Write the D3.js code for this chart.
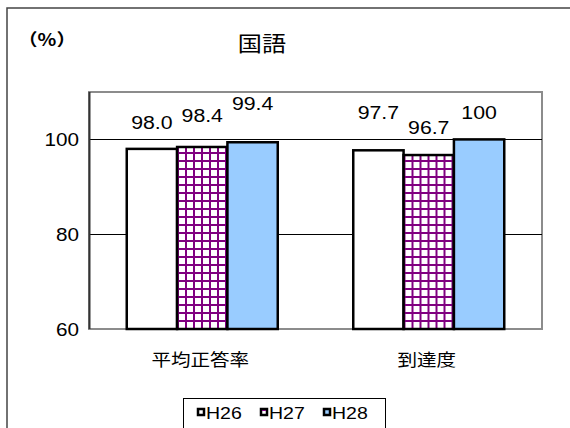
<!DOCTYPE html>
<html>
<head>
<meta charset="utf-8">
<script src="https://cdn.jsdelivr.net/npm/d3@7"></script>
<style>
  body { margin: 0; background: #fff; }
  text { font-family: "Liberation Sans", Arial, sans-serif; fill: #000; }
  .jp { font-family: "Noto Sans CJK JP", sans-serif; }
</style>
</head>
<body>
<div id="chart"></div>
<script>
// data
var categories = ["平均正答率", "到達度"];
var series = ["H26", "H27", "H28"];
var h26 = [98.0, 97.7];
var h27 = [98.4, 96.7];
var h28 = [99.4, 100];
var labelText = [["98.0", "98.4", "99.4"], ["97.7", "96.7", "100"]];
var yTicks = [60, 80, 100];

// layout
var width = 570, height = 428;
var plot = {left: 89, right: 542, top: 92, bottom: 329};
var stretch = 1.15;   // the original text is a bit wide
var labelLift = [[20, 25, 32], [31, 21, 20]];

var values = [h26, h27, h28];
var fills = ["#ffffff", "url(#grid)", "#99ccff"];

var svg = d3.select("#chart").append("svg")
    .attr("width", width)
    .attr("height", height);

var defs = svg.append("defs");
var pat = defs.append("pattern")
    .attr("id", "grid")
    .attr("patternUnits", "userSpaceOnUse")
    .attr("width", 8).attr("height", 8);
pat.append("rect").attr("width", 8).attr("height", 8).attr("fill", "#fff");
pat.append("rect").attr("width", 8).attr("height", 2).attr("fill", "#800080");
pat.append("rect").attr("width", 2).attr("height", 8).attr("fill", "#800080");

function txt(g, x, y, s, size, anchor, cls, sx) {
    return g.append("text")
        .attr("class", cls || null)
        .attr("transform", `translate(${x},${y}) scale(${sx || stretch},1)`)
        .attr("text-anchor", anchor || "middle")
        .style("font-size", size + "px")
        .text(s);
}

/* outer frame */
svg.append("path")
    .attr("d", `M7,${height} L7,8 L${width},8`)
    .attr("fill", "none")
    .attr("stroke", "#444")
    .attr("stroke-width", 1.5);

/* scales */
var x0 = d3.scaleBand()
    .domain(categories)
    .range([plot.left, plot.right]);

var x1 = d3.scaleBand()
    .domain(series)
    .range([0, x0.bandwidth()])
    .paddingOuter(0.75);

var y = d3.scaleLinear()
    .domain([60, 110])
    .range([plot.bottom, plot.top]);

/* plot area */
svg.append("rect")
    .attr("x", plot.left).attr("y", plot.top)
    .attr("width", plot.right - plot.left)
    .attr("height", plot.bottom - plot.top)
    .attr("fill", "#fff")
    .attr("stroke", "#8c8c8c")
    .attr("stroke-width", 2);

svg.append("g")
    .selectAll("line")
    .data(yTicks.filter(d => d > 60)).enter()
    .append("line")
    .attr("x1", plot.left).attr("x2", plot.right)
    .attr("y1", d => Math.round(y(d)) + 0.5)
    .attr("y2", d => Math.round(y(d)) + 0.5)
    .attr("stroke", "#000");

svg.append("line")
    .attr("x1", plot.left + 0.5).attr("x2", plot.left + 0.5)
    .attr("y1", plot.top).attr("y2", plot.bottom)
    .attr("stroke", "#333")
    .attr("stroke-width", 2);

/* bars */
var groups = svg.append("g")
    .selectAll("g")
    .data(categories).enter()
    .append("g")
    .attr("transform", d => `translate(${x0(d)},0)`);

groups.selectAll("rect")
    .data((c, ci) => series.map((s, si) => ({s: s, si: si, ci: ci, v: values[si][ci]})))
    .enter()
    .append("rect")
    .attr("x", d => x1(d.s))
    .attr("width", x1.bandwidth())
    .attr("y", d => y(d.v))
    .attr("height", d => plot.bottom - y(d.v))
    .attr("fill", d => fills[d.si])
    .attr("stroke", "#000")
    .attr("stroke-width", 2.5);

/* value labels */
categories.forEach(function (c, ci) {
    series.forEach(function (s, si) {
        var cx = x0(c) + x1(s) + x1.bandwidth() / 2;
        txt(svg, cx, y(values[si][ci]) - labelLift[ci][si], labelText[ci][si], 18.5);
    });
});

/* y tick labels */
yTicks.forEach(function (t) {
    txt(svg, 79, y(t) + 6.5, t, 18, "end");
});

/* category labels */
categories.forEach(function (c) {
    txt(svg, x0(c) + x0.bandwidth() / 2 - 2, 366, c, 17, "middle", "jp");
});

/* titles */
txt(svg, 262, 51, "国語", 21, "middle", "jp");
txt(svg, 47, 46, "（%）", 17, "middle", "jp").style("font-weight", "bold");

/* legend */
var legend = svg.append("g");
legend.append("rect")
    .attr("x", 183.5).attr("y", 398.5)
    .attr("width", 202).attr("height", 40)
    .attr("fill", "#fff")
    .attr("stroke", "#000");

var legX = [197, 260, 323];
series.forEach(function (s, i) {
    legend.append("rect")
        .attr("x", legX[i] + 1).attr("y", 409)
        .attr("width", 6).attr("height", 6)
        .attr("fill", i === 1 ? "#fff" : fills[i])
        .attr("stroke", "#000")
        .attr("stroke-width", 2.5);
    if (i === 1) {
        legend.append("rect")
            .attr("x", legX[i] + 2).attr("y", 410)
            .attr("width", 4).attr("height", 1)
            .attr("fill", "#800080");
    }
    txt(legend, legX[i] + 9, 418.5, s, 16, "start", null, 1.22);
});
</script>
</body>
</html>
